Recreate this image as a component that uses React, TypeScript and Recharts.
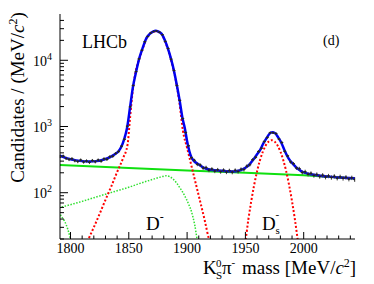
import React from "react";
import { ComposedChart, Line, Scatter, ErrorBar, XAxis, YAxis } from "recharts";

const W = 374;
const H = 284;
const serif = "'Liberation Serif', 'Times New Roman', Times, serif";

// histogram of candidates, 2.5 MeV bins starting at 1790
const binStart = 1790;
const binWidth = 2.5;
const counts = [
  352, 358, 330, 318, 327, 305, 296, 312, 291, 302,
  288, 306, 294, 312, 300, 325, 319, 350, 356, 392,
  418, 505, 640, 1010, 1980, 4150, 6750, 10500, 14200, 19100,
  22900, 25800, 27200, 27800, 26500, 24400, 19300, 15100, 10400, 7000,
  4150, 2480, 1320, 810, 512, 338, 308, 268, 262, 236,
  240, 219, 228, 212, 222, 208, 219, 205, 216, 204,
  218, 209, 226, 224, 252, 265, 316, 342, 420, 470,
  592, 680, 805, 802, 782, 648, 572, 422, 360, 292,
  275, 236, 231, 202, 208, 190, 196, 182, 189, 176,
  184, 172, 179, 170, 177, 166, 174, 165, 171, 161,
  168, 158,
];

// total fit (blue)
const totalMass = [
  1790, 1795, 1800, 1805, 1810, 1816, 1822, 1828, 1834, 1838, 1841, 1843.5, 1846, 1848.5,
  1851, 1853.5, 1856.5, 1859.3, 1862, 1865, 1868, 1870.7, 1873, 1875.5, 1878, 1882, 1885,
  1888, 1891, 1893.6, 1896, 1898, 1900, 1903.6, 1906, 1909.3, 1913, 1916.5, 1922, 1928,
  1934, 1940, 1944, 1948, 1951, 1953.7, 1957, 1960, 1962.3, 1965, 1968, 1970.5, 1973,
  1975.5, 1978, 1981, 1983.7, 1987, 1990.9, 1995, 1999.4, 2005, 2013.7, 2022, 2031, 2038, 2044,
];
const totalVal = [
  365, 340, 320, 308, 300, 297, 300, 315, 345, 380, 420, 490, 640, 950,
  1900, 3900, 7000, 11200, 15500, 21400, 25000, 27000, 27900, 27000, 25300, 18000, 12500,
  7900, 4400, 2480, 1350, 950, 600, 345, 300, 272, 245, 230, 220, 215,
  211, 210, 215, 228, 245, 271, 320, 380, 431, 540, 660, 770, 818,
  790, 690, 560, 431, 330, 271, 230, 205, 192, 181, 175, 170, 167, 165,
];

// D- signal (red dotted)
const dMass = [
  1812, 1815.5, 1820, 1825, 1830, 1835, 1840, 1845, 1849, 1851, 1853.5, 1856, 1859.3, 1862,
  1865, 1868, 1871, 1873.5, 1876, 1878, 1882, 1885, 1888, 1891, 1893.6, 1896.4, 1900, 1905,
  1910, 1915, 1919, 1922,
];
const dVal = [
  14, 20, 30, 48, 78, 125, 205, 330, 540, 1300, 3600, 6900, 10900, 15000,
  21000, 25000, 27000, 27500, 26600, 25000, 17600, 12200, 7600, 4300, 2170, 868, 475, 206,
  90, 39, 19, 13,
];

// Ds- signal (red dotted)
const dsMass = [
  1948, 1950, 1952.5, 1955, 1957.5, 1960, 1962.5, 1965, 1967.5, 1970, 1972.5,
  1975, 1977.5, 1980, 1982.5, 1985, 1987.5, 1990, 1992.5, 1995, 1997,
];
const dsVal = [
  13, 18.6, 39, 74, 130, 210, 310, 419, 521, 594, 620,
  594, 521, 419, 310, 210, 130, 74, 39, 18.6, 10,
];

// partially reconstructed background (green dotted)
const partMass = [
  1790, 1800, 1810, 1820, 1830, 1840, 1850, 1860, 1870, 1877, 1882, 1885,
  1888, 1891, 1893.6, 1896.5, 1899.4, 1901.5, 1903.6, 1905, 1906.5, 1908.5, 1910.5,
];
const partVal = [
  59, 66, 74, 84, 95, 107, 121, 139, 158, 172, 180, 175,
  161, 140, 120, 100, 80, 66, 53, 43, 33, 20, 12,
];

// low-mass tail (green dotted)
const tailMass = [1790, 1792.5, 1795, 1797.7, 1800, 1802];
const tailVal = [51, 43, 37, 28, 20, 14];

// combinatorial background (green solid)
const combMass = [1790, 1850, 1900, 1950, 2000, 2045];
const combVal = [262, 236, 217, 200, 183, 163];

const xMajor = [1800, 1850, 1900, 1950, 2000];
const xTicks = Array.from({ length: 25 }, (_, i) => 1800 + 10 * i);
const yMajor = [100, 1000, 10000];
const yTicks = [10, 100, 1000, 10000]
  .flatMap((d) => [1, 2, 3, 4, 5, 6, 7, 8, 9].map((k) => k * d))
  .filter((v) => v >= 20 && v < 50000);

const pts = (m: number[], v: number[]) => m.map((x, i) => ({ m: x, v: v[i] }));
const dataPts = counts.map((c, i) => ({
  m: binStart + binWidth * (i + 0.5),
  v: c,
  err: Math.sqrt(c),
}));

function BottomTick(p: any) {
  const major = xMajor.includes(p.payload.value);
  return (
    <g>
      <line x1={p.x} x2={p.x} y1={p.y} y2={p.y - (major ? 7 : 3.5)} stroke="#000" />
      {major && (
        <text x={p.x} y={p.y + 14} textAnchor="middle" fontFamily={serif} fontSize={14} fill="#000">
          {p.payload.value}
        </text>
      )}
    </g>
  );
}

function TopTick(p: any) {
  const major = xMajor.includes(p.payload.value);
  return <line x1={p.x} x2={p.x} y1={p.y} y2={p.y + (major ? 7 : 3.5)} stroke="#000" />;
}

function LeftTick(p: any) {
  const v = p.payload.value;
  const major = yMajor.includes(v);
  return (
    <g>
      <line x1={p.x} x2={p.x + (major ? 8 : 4)} y1={p.y} y2={p.y} stroke="#000" />
      {major && (
        <text x={p.x - 27} y={p.y + 5.5} fontFamily={serif} fontSize={14} fill="#000">
          10
          <tspan dy={-6} fontSize={10}>
            {Math.round(Math.log10(v))}
          </tspan>
        </text>
      )}
    </g>
  );
}

function RightTick(p: any) {
  const major = yMajor.includes(p.payload.value);
  return <line x1={p.x} x2={p.x - (major ? 8 : 4)} y1={p.y} y2={p.y} stroke="#000" />;
}

function DataMark(p: any) {
  return (
    <g>
      <line x1={p.cx - 1.5} x2={p.cx + 1.5} y1={p.cy} y2={p.cy} stroke="#333" strokeWidth={1} />
      <circle cx={p.cx} cy={p.cy} r={1} fill="#222" />
    </g>
  );
}

export default function App() {
  return (
    <div style={{ position: "absolute", left: 0, top: 0, width: W, height: H, background: "#fff" }}>
      <ComposedChart width={W} height={H} margin={{ top: 14, right: 19, bottom: 0, left: 0 }}>
        <XAxis
          dataKey="m"
          type="number"
          domain={[1791, 2044]}
          allowDataOverflow
          ticks={xTicks}
          interval={0}
          tick={(p: any) => <BottomTick {...p} />}
          tickLine={false}
          tickSize={0}
          tickMargin={0}
          axisLine={{ stroke: "#000" }}
          height={45}
        />
        <XAxis
          xAxisId="top"
          orientation="top"
          type="number"
          domain={[1791, 2044]}
          allowDataOverflow
          ticks={xTicks}
          interval={0}
          tick={(p: any) => <TopTick {...p} />}
          tickLine={false}
          tickSize={0}
          tickMargin={0}
          axisLine={{ stroke: "#000" }}
          height={0}
        />
        <YAxis
          type="number"
          scale="log"
          domain={[20, 50000]}
          allowDataOverflow
          ticks={yTicks}
          interval={0}
          tick={(p: any) => <LeftTick {...p} />}
          tickLine={false}
          tickSize={0}
          tickMargin={0}
          axisLine={{ stroke: "#000" }}
          width={60}
        />
        <YAxis
          yAxisId="right"
          orientation="right"
          type="number"
          scale="log"
          domain={[20, 50000]}
          allowDataOverflow
          ticks={yTicks}
          interval={0}
          tick={(p: any) => <RightTick {...p} />}
          tickLine={false}
          tickSize={0}
          tickMargin={0}
          axisLine={{ stroke: "#000" }}
          width={0}
        />
        <Line data={pts(combMass, combVal)} dataKey="v" type="linear" stroke="#10e010" strokeWidth={2} dot={false} activeDot={false} isAnimationActive={false} />
        <Line data={pts(partMass, partVal)} dataKey="v" type="monotone" stroke="#30e030" strokeWidth={1.5} strokeDasharray="1.5 1.5" dot={false} activeDot={false} isAnimationActive={false} />
        <Line data={pts(tailMass, tailVal)} dataKey="v" type="monotone" stroke="#30e030" strokeWidth={1.5} strokeDasharray="1.5 1.5" dot={false} activeDot={false} isAnimationActive={false} />
        <Line data={pts(dMass, dVal)} dataKey="v" type="monotone" stroke="#f00" strokeWidth={2} strokeDasharray="2 2" dot={false} activeDot={false} isAnimationActive={false} />
        <Line data={pts(dsMass, dsVal)} dataKey="v" type="monotone" stroke="#f00" strokeWidth={2} strokeDasharray="2 2" dot={false} activeDot={false} isAnimationActive={false} />
        <Line data={pts(totalMass, totalVal)} dataKey="v" type="monotone" stroke="#0000f0" strokeWidth={2.5} dot={false} activeDot={false} isAnimationActive={false} />
        <Scatter data={dataPts} dataKey="v" shape={(p: any) => <DataMark {...p} />} isAnimationActive={false}>
          <ErrorBar dataKey="err" direction="y" width={0} stroke="#444" strokeWidth={1} />
        </Scatter>
      </ComposedChart>
      <svg width={W} height={H} style={{ position: "absolute", left: 0, top: 0, pointerEvents: "none" }} fontFamily={serif} fill="#000">
        <text x={82} y={48} fontSize={18}>LHCb</text>
        <text x={323} y={45} fontSize={14}>(d)</text>
        <text x={146} y={230} fontSize={19}>
          D<tspan dy={-9} fontSize={12}>-</tspan>
        </text>
        <text x={262} y={230} fontSize={19}>D</text>
        <text x={275.5} y={234} fontSize={11}>s</text>
        <text x={275.5} y={218} fontSize={11}>-</text>
        <text transform="translate(23.5,97.5) rotate(-90)" textAnchor="middle" fontSize={19}>
          Candidates / (MeV/<tspan fontStyle="italic">c</tspan>
          <tspan dy={-7} fontSize={12}>2</tspan>
          <tspan dy={7}>)</tspan>
        </text>
        <text y={274} fontSize={19}>
          <tspan x={203}>K</tspan>
          <tspan x={216} dy={5} fontSize={11}>S</tspan>
          <tspan x={216} dy={-12} fontSize={11}>0</tspan>
          <tspan x={222} dy={7}>π</tspan>
          <tspan dy={-8} fontSize={11}>-</tspan>
          <tspan x={242} dy={8}>mass [MeV/</tspan>
          <tspan fontStyle="italic">c</tspan>
          <tspan dy={-7} fontSize={12}>2</tspan>
          <tspan dy={7}>]</tspan>
        </text>
      </svg>
    </div>
  );
}
